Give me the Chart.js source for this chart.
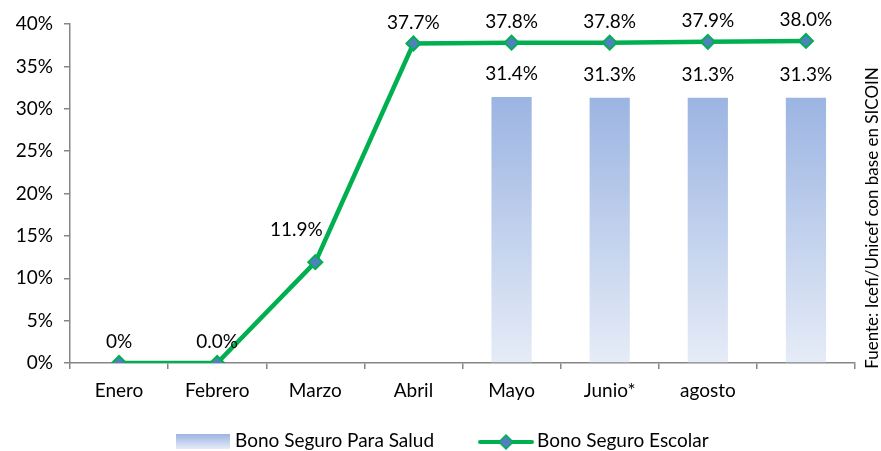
<!DOCTYPE html>
<html>
<head>
<meta charset="utf-8">
<script src="https://cdn.jsdelivr.net/npm/chart.js@4.4.0/dist/chart.umd.min.js"></script>
<style>
  html, body { margin: 0; padding: 0; background: #fff; }
  #wrap { width: 881px; height: 451px; position: relative; }
</style>
</head>
<body>
<div id="wrap"><canvas id="chart" width="881" height="451"></canvas></div>
<script>
// chart data
const months = ['Enero', 'Febrero', 'Marzo', 'Abril', 'Mayo', 'Junio*', 'agosto', ''];
const saludValues = [null, null, null, null, 31.4, 31.3, 31.3, 31.3];
const escolarValues = [0, 0.0, 11.9, 37.7, 37.8, 37.8, 37.9, 38.0];
const escolarLabels = ['0%', '0.0%', '11.9%', '37.7%', '37.8%', '37.8%', '37.9%', '38.0%'];
const yTicks = [0, 5, 10, 15, 20, 25, 30, 35, 40];
const sourceText = 'Fuente: Icefi/Unicef con base en SICOIN';

const FONT = 'Lato, "Open Sans", sans-serif';
const FS = 19;

function barGradient(ctx, top, bottom) {
    const g = ctx.createLinearGradient(0, top, 0, bottom);
    g.addColorStop(0, '#9bb4e2');
    g.addColorStop(1, '#e6ecf7');
    return g;
}

// data labels above points and bars
const labelPlugin = {
    id: 'labels',
    afterDatasetsDraw(chart) {
        const ctx = chart.ctx;
        ctx.save();
        ctx.font = FS + 'px ' + FONT;
        ctx.fillStyle = '#000';
        ctx.textAlign = 'center';
        ctx.textBaseline = 'middle';
        chart.getDatasetMeta(0).data.forEach(function(el, i) {
            if (saludValues[i] == null) return;
            ctx.fillText(saludValues[i].toFixed(1) + '%', el.x, el.y - 23);
        });
        chart.getDatasetMeta(1).data.forEach(function(el, i) {
            let dx = 0, dy = -21;
            if (i === 2) { dx = -19; dy = -32; }
            ctx.fillText(escolarLabels[i], el.x + dx, el.y + dy);
        });
        ctx.restore();
    }
};

// legend and vertical source note
const extrasPlugin = {
    id: 'extras',
    afterDraw(chart) {
        const ctx = chart.ctx;
        ctx.save();
        // bar swatch
        ctx.fillStyle = barGradient(ctx, 434, 449);
        ctx.fillRect(176, 434, 54, 15);
        ctx.font = FS + 'px ' + FONT;
        ctx.fillStyle = '#000';
        ctx.textBaseline = 'middle';
        ctx.textAlign = 'left';
        ctx.fillText(chart.data.datasets[0].label, 235, 441);
        // line swatch
        ctx.strokeStyle = '#00b050';
        ctx.lineWidth = 4;
        ctx.lineCap = 'round';
        ctx.beginPath();
        ctx.moveTo(480, 442);
        ctx.lineTo(532, 442);
        ctx.stroke();
        ctx.beginPath();
        ctx.moveTo(506, 435); ctx.lineTo(513, 442); ctx.lineTo(506, 449); ctx.lineTo(499, 442);
        ctx.closePath();
        ctx.fillStyle = '#4f81bd';
        ctx.fill();
        ctx.lineWidth = 1.5;
        ctx.stroke();
        ctx.fillStyle = '#000';
        ctx.fillText(chart.data.datasets[1].label, 537, 441);
        // source
        ctx.font = '17px ' + FONT;
        ctx.translate(873, 218);
        ctx.rotate(-Math.PI / 2);
        ctx.textAlign = 'center';
        ctx.fillText(sourceText, 0, 0);
        ctx.restore();
    }
};

const ctx = document.getElementById('chart').getContext('2d');
const chart = new Chart(ctx, {
    type: 'bar',
    data: {
        labels: months,
        datasets: [{
            type: 'bar',
            label: 'Bono Seguro Para Salud',
            data: saludValues,
            backgroundColor: function(c) {
                const area = c.chart.chartArea;
                if (!area) return '#9bb4e2';
                return barGradient(c.chart.ctx, area.top + 72, area.bottom);
            },
            borderWidth: 0,
            categoryPercentage: 1,
            barPercentage: 0.41,
            order: 2
        }, {
            type: 'line',
            label: 'Bono Seguro Escolar',
            data: escolarValues,
            borderColor: '#00b050',
            borderWidth: 4.5,
            pointStyle: 'rectRot',
            pointRadius: 7,
            pointBorderWidth: 2,
            pointBackgroundColor: '#4f81bd',
            pointBorderColor: '#00b050',
            tension: 0,
            order: 1
        }]
    },
    options: {
        responsive: false,
        animation: false,
        events: [],
        layout: { padding: { top: 24, right: 26, bottom: 0, left: 0 } },
        plugins: {
            legend: { display: false },
            tooltip: { enabled: false }
        },
        scales: {
            x: {
                offset: true,
                grid: { offset: true, drawOnChartArea: false, tickLength: 6, color: '#868686', lineWidth: 1.5 },
                border: { color: '#868686', width: 1.5 },
                ticks: { color: '#000', font: { family: FONT, size: FS }, padding: 10, maxRotation: 0 },
                afterFit: function(s) { s.height = 88; }
            },
            y: {
                min: 0,
                max: 40,
                afterBuildTicks: function(s) { s.ticks = yTicks.map(function(v) { return { value: v }; }); },
                grid: { drawOnChartArea: false, tickLength: 6, color: '#868686', lineWidth: 1.5 },
                border: { color: '#868686', width: 1.5 },
                ticks: {
                    color: '#000',
                    font: { family: FONT, size: FS },
                    padding: 11,
                    callback: function(v) { return v + '%'; }
                },
                afterFit: function(s) { s.width = 70; }
            }
        }
    },
    plugins: [labelPlugin, extrasPlugin]
});
</script>
</body>
</html>
